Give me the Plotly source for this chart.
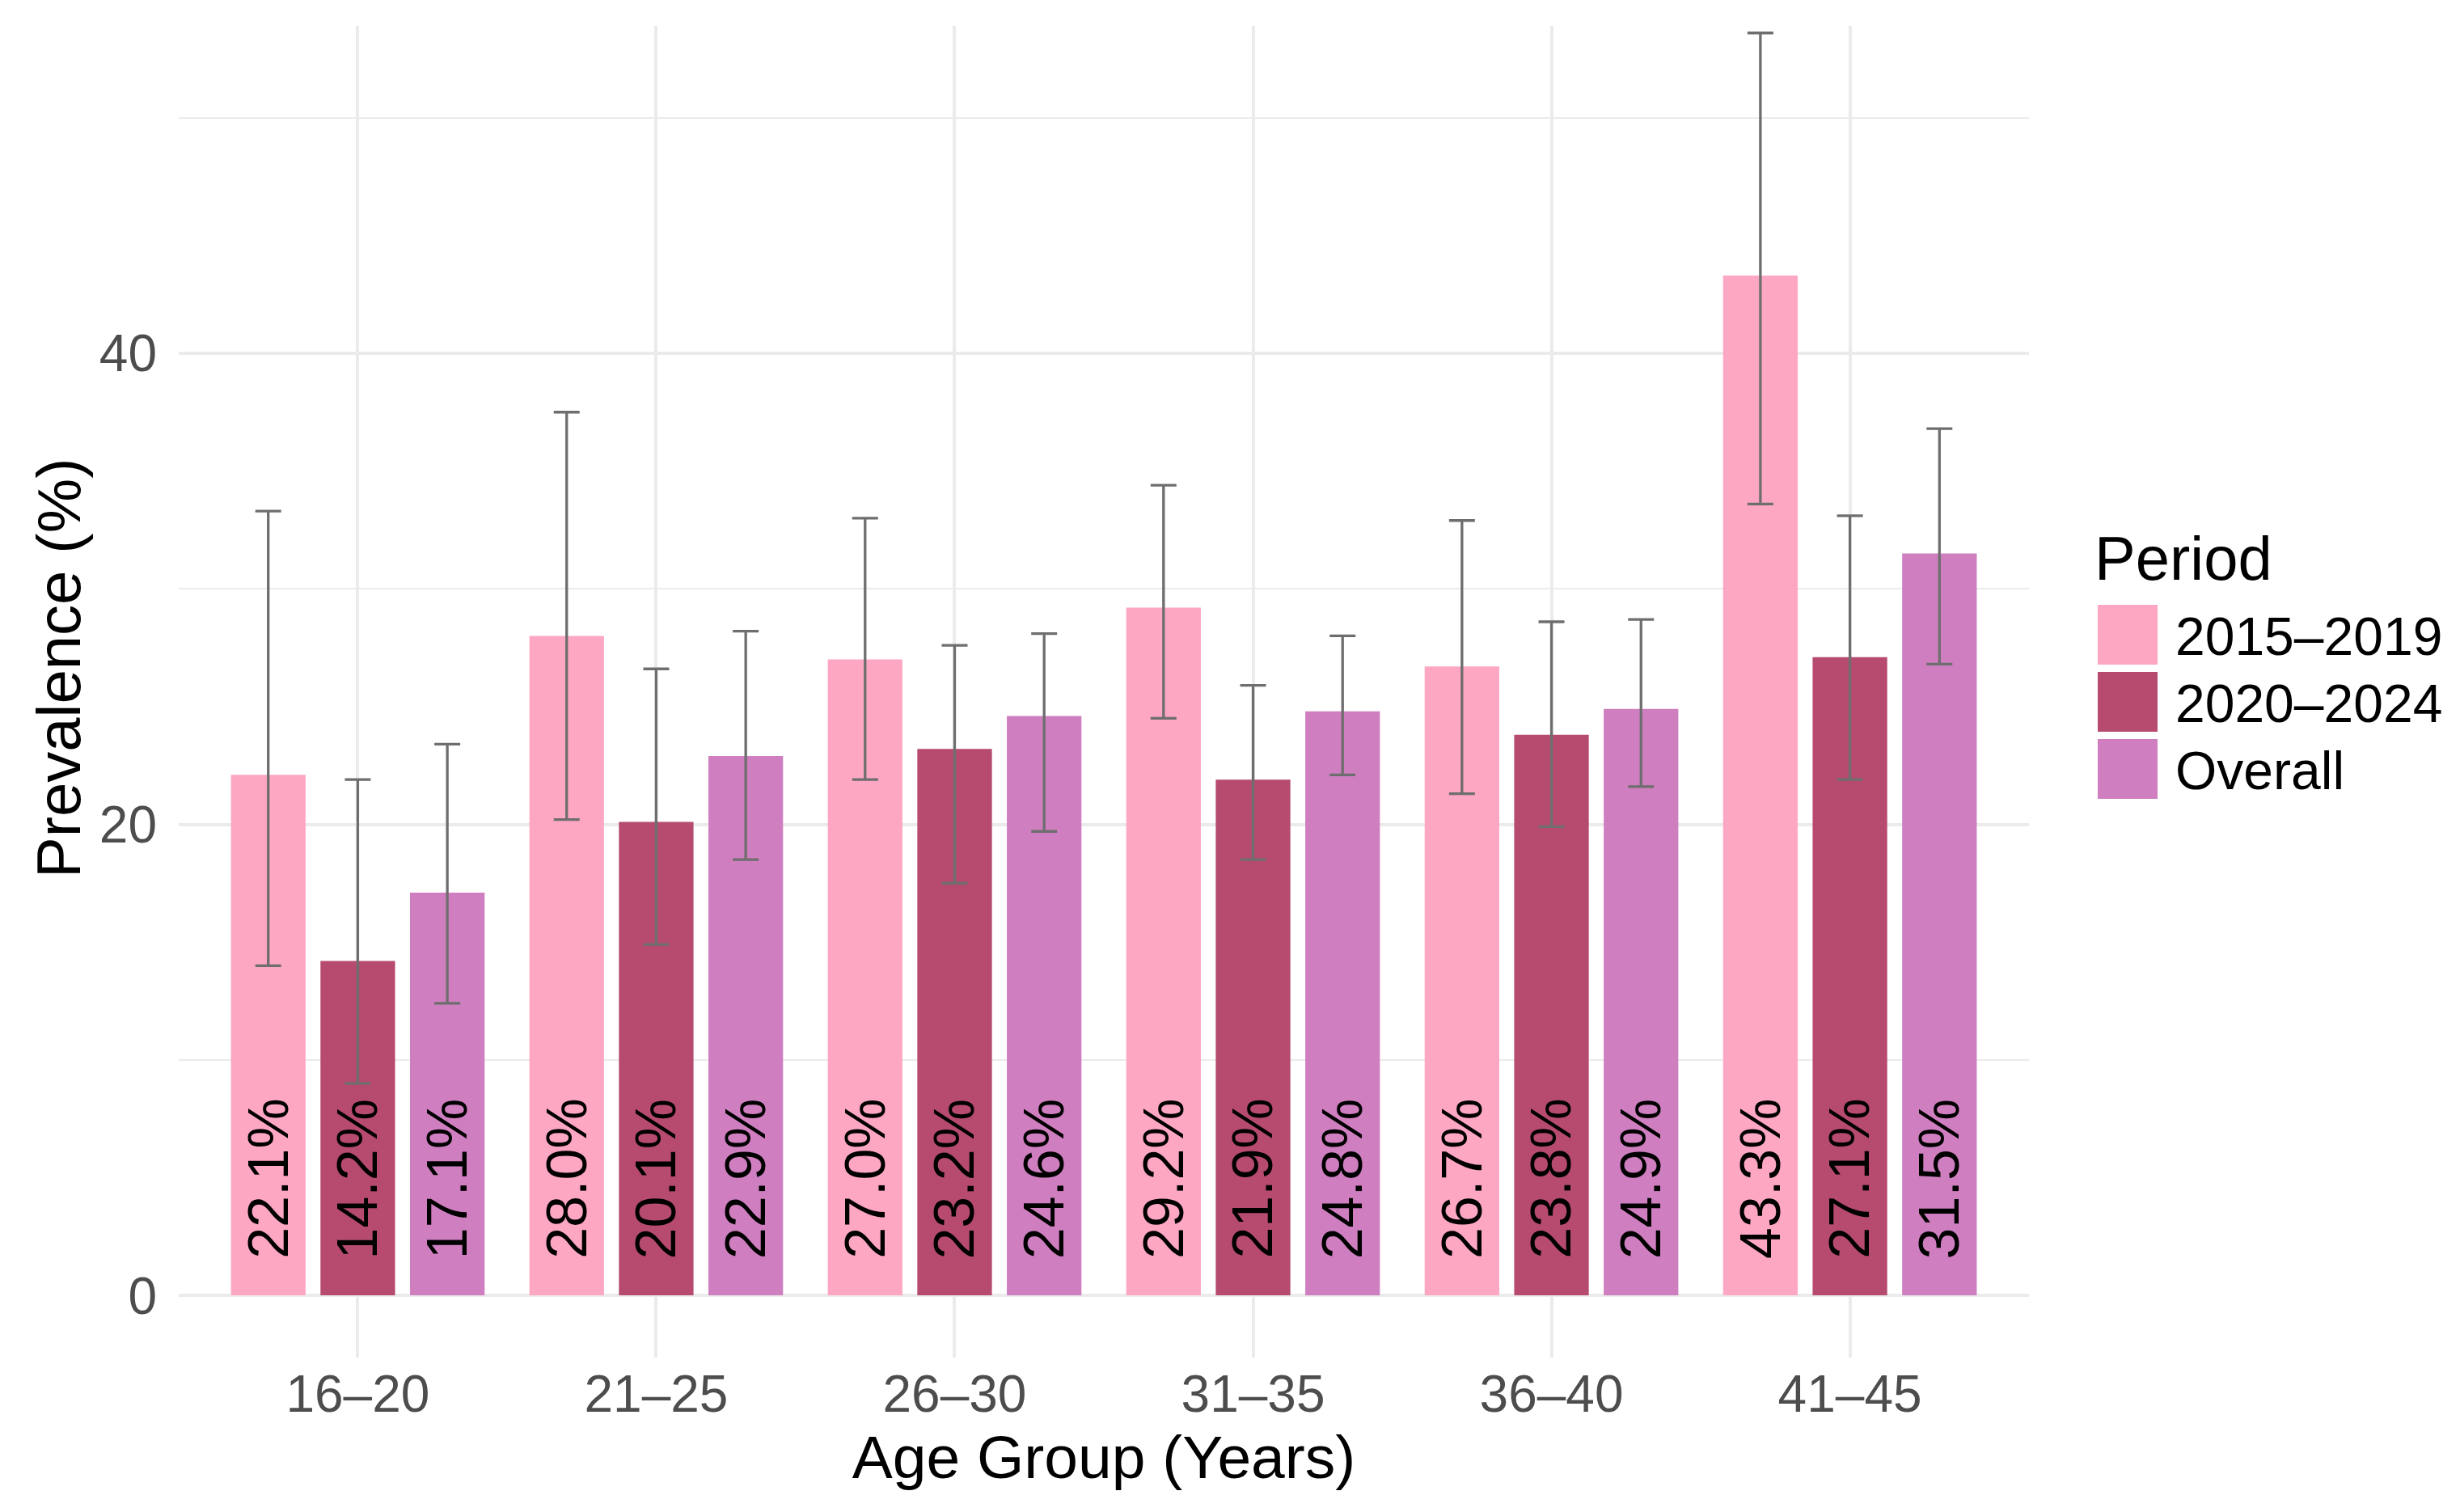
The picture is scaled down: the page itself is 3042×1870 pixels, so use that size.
import plotly.graph_objects as go

# ---------------- data ----------------
age_groups = ["16–20", "21–25", "26–30", "31–35", "36–40", "41–45"]
periods = ["2015–2019", "2020–2024", "Overall"]

prev_2015_2019 = [22.1, 28.0, 27.0, 29.2, 26.7, 43.3]
low_2015_2019 = [14.0, 20.2, 21.9, 24.5, 21.3, 33.6]
high_2015_2019 = [33.3, 37.5, 33.0, 34.4, 32.9, 53.6]

prev_2020_2024 = [14.2, 20.1, 23.2, 21.9, 23.8, 27.1]
low_2020_2024 = [9.0, 14.9, 17.5, 18.5, 19.9, 21.9]
high_2020_2024 = [21.9, 26.6, 27.6, 25.9, 28.6, 33.1]

prev_overall = [17.1, 22.9, 24.6, 24.8, 24.9, 31.5]
low_overall = [12.4, 18.5, 19.7, 22.1, 21.6, 26.8]
high_overall = [23.4, 28.2, 28.1, 28.0, 28.7, 36.8]

colors = ["#FDA7C3", "#B64B6F", "#CF7FC0"]

series = [
    (prev_2015_2019, low_2015_2019, high_2015_2019),
    (prev_2020_2024, low_2020_2024, high_2020_2024),
    (prev_overall, low_overall, high_overall),
]

FONT = "Liberation Sans, Arial, sans-serif"

# ---------------- layout geometry (pixels) ----------------
W_FIG, H_FIG = 3042, 1870
L, R_EDGE, T, B_EDGE = 213, 2501, 24, 1671
PW, PH = R_EDGE - L, B_EDGE - T


def px2paper_x(px):
    return (px - L) / PW


def px2paper_y(py):
    return (B_EDGE - py) / PH


fig = go.Figure()

dodge = 0.3
for j, (name, (vals, lo, hi)) in enumerate(zip(periods, series)):
    fig.add_trace(go.Bar(
        name=name,
        x=age_groups,
        y=vals,
        marker=dict(color=colors[j], line=dict(width=0)),
        error_y=dict(
            type="data",
            symmetric=False,
            array=[h - v for h, v in zip(hi, vals)],
            arrayminus=[v - l for v, l in zip(vals, lo)],
            color="#6E6E6E",
            thickness=3.3,
            width=16,
        ),
        showlegend=False,
    ))
    # value labels inside bars, rotated
    for i, v in enumerate(vals):
        fig.add_annotation(
            x=i + (j - 1) * dodge, y=0, xref="x", yref="y",
            text=f"{v:.1f}%", textangle=-90,
            showarrow=False, xanchor="center", yanchor="bottom",
            yshift=43,
            font=dict(family=FONT, size=70, color="black"),
        )

# ---------------- axis titles ----------------
fig.add_annotation(
    x=px2paper_x(64), y=px2paper_y(818), xref="paper", yref="paper",
    text="Prevalence (%)", textangle=-90, showarrow=False,
    xanchor="center", yanchor="middle",
    font=dict(family=FONT, size=76, color="black"),
)

# ---------------- manual legend ----------------
legend_left = 2586
key_size = 74
key_tops = [740, 823, 906]
fig.add_annotation(
    x=px2paper_x(legend_left - 6), y=px2paper_y(682), xref="paper", yref="paper",
    text="Period", showarrow=False, xanchor="left", yanchor="middle",
    font=dict(family=FONT, size=76, color="black"),
)
for j, name in enumerate(periods):
    top = key_tops[j]
    fig.add_shape(
        type="rect", xref="paper", yref="paper",
        x0=px2paper_x(legend_left), x1=px2paper_x(legend_left + key_size),
        y0=px2paper_y(top + key_size), y1=px2paper_y(top),
        fillcolor=colors[j], line=dict(width=0),
    )
    fig.add_annotation(
        x=px2paper_x(2680), y=px2paper_y(top + key_size / 2 + 2),
        xref="paper", yref="paper",
        text=name, showarrow=False, xanchor="left", yanchor="middle",
        font=dict(family=FONT, size=66, color="black"),
    )

fig.update_layout(
    width=W_FIG, height=H_FIG,
    margin=dict(l=L, r=W_FIG - R_EDGE, t=T, b=H_FIG - B_EDGE, pad=0),
    paper_bgcolor="white", plot_bgcolor="white",
    barmode="group", bargap=0.1, bargroupgap=1 - 0.25 / 0.3,
    font=dict(family=FONT),
    showlegend=False,
    xaxis=dict(
        type="category",
        range=[-0.6, 5.6],
        showgrid=True, gridcolor="#EBEBEB", gridwidth=3.5,
        zeroline=False, showline=False, ticks="",
        tickfont=dict(family=FONT, size=64, color="#4D4D4D"),
        ticklabelstandoff=2,
        title=dict(text="Age Group (Years)", standoff=16,
                   font=dict(family=FONT, size=75, color="black")),
    ),
    yaxis=dict(
        range=[-2.64, 53.9],
        tickvals=[0, 20, 40],
        showgrid=True, gridcolor="#EBEBEB", gridwidth=3.5,
        minor=dict(tickvals=[10, 30, 50], showgrid=True,
                   gridcolor="#EBEBEB", gridwidth=1.8, ticks=""),
        zeroline=False, showline=False, ticks="",
        tickfont=dict(family=FONT, size=64, color="#4D4D4D"),
        ticklabelstandoff=26,
    ),
)

fig.write_html("out.html")
